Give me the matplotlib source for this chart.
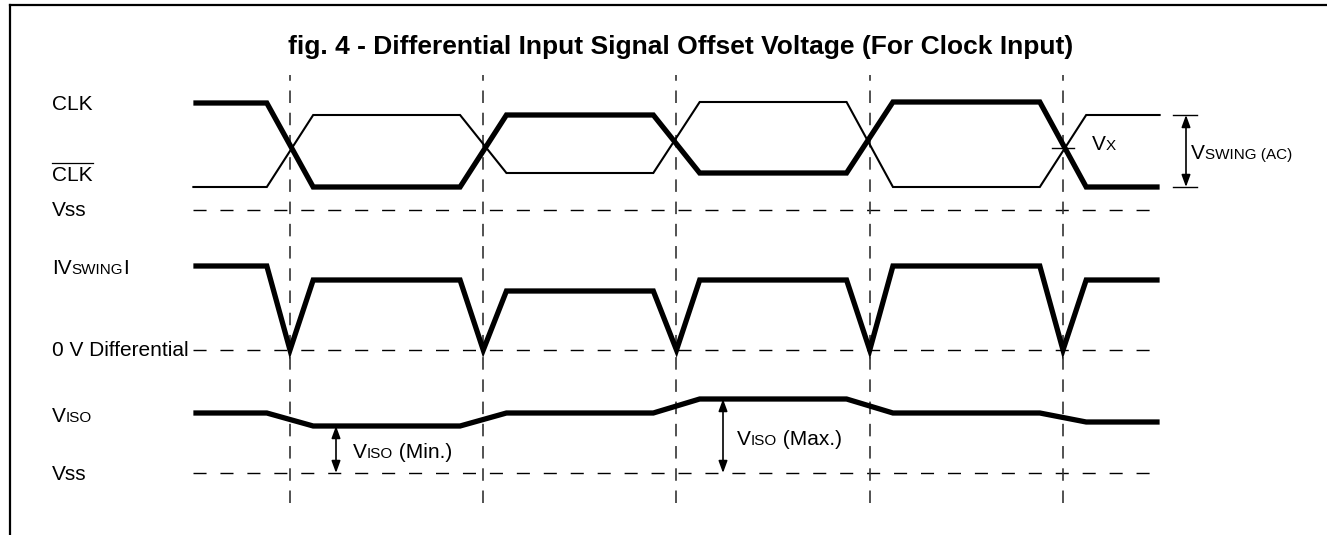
import numpy as np
import matplotlib.pyplot as plt
from matplotlib.lines import Line2D

plt.rcParams['font.family'] = ['Liberation Sans', 'DejaVu Sans']
plt.rcParams['lines.scale_dashes'] = False

W, H = 1327, 535

# clock edges (crossing instants) in half periods
edges = [1, 2, 3, 4, 5]
t_start, t_end = 0.5, 5.5
tr = 0.12  # half of rise / fall time

# level in each interval (before 1st edge ... after last edge), units above the baseline
clk = [107, 23, 95, 37, 108, 23]
clk_bar = [23, 95, 37, 108, 23, 95]
vswing = [84, 70, 59, 70, 84, 70]
viso = [60, 47, 60, 74, 60, 51]

# baselines of the three traces
base_clk = 325   # Vss
base_diff = 185  # 0 V differential
base_iso = 62    # Vss

title = 'fig. 4 - Differential Input Signal Offset Voltage (For Clock Input)'


def step_wave(levels):
    xs, ys = [t_start], [levels[0]]
    for k, e in enumerate(edges):
        xs += [e - tr, e + tr]
        ys += [levels[k], levels[k + 1]]
    xs.append(t_end)
    ys.append(levels[-1])
    return np.array(xs), np.array(ys)


def v_wave(levels):
    xs, ys = [t_start], [levels[0]]
    for k, e in enumerate(edges):
        xs += [e - tr, e, e + tr]
        ys += [levels[k], 0, levels[k + 1]]
    xs.append(t_end)
    ys.append(levels[-1])
    return np.array(xs), np.array(ys)


fig = plt.figure(figsize=(W / 100, H / 100), dpi=100)
ax = fig.add_axes([0, 0, 1, 1])
ax.set_xlim(1 - 290 / 193.25, 1 + (W - 290) / 193.25)
ax.set_ylim(0, H)
ax.axis('off')

thick = dict(color='black', lw=3.8, solid_joinstyle='miter', solid_capstyle='butt')

# dashed reference lines
for b in [base_clk, base_diff, base_iso]:
    ax.plot([t_start, t_end], [b, b], color='black', lw=1.0, dashes=(9.4, 10.0))
for e in edges:
    ax.plot([e, e], [32, 460], color='#333333', lw=1.2, dashes=(9.0, 7.0))

# CLK / CLK bar
x, y = step_wave(clk_bar)
ax.plot(x, base_clk + y, color='black', lw=1.5, solid_joinstyle='miter')
x, y = step_wave(clk)
ax.plot(x, base_clk + y, **thick)

# |Vswing|
x, y = v_wave(vswing)
ax.plot(x, base_diff + y, **thick)

# Viso
x, y = step_wave(viso)
ax.plot(x, base_iso + y, **thick)

# Vx marker at the last crossing
s = (clk[-2] - clk_bar[-2]) / ((clk[-2] - clk[-1]) + (clk_bar[-1] - clk_bar[-2]))
vx = clk[-2] + s * (clk[-1] - clk[-2])
ax.plot([edges[-1] - 0.057, edges[-1] + 0.057], [base_clk + vx] * 2, color='black', lw=1.0)

arrow = dict(arrowstyle='<|-|>,head_length=0.6,head_width=0.22', color='black', lw=1.2,
             mutation_scale=12, shrinkA=0, shrinkB=0)

# Vswing (AC)
ta = 1 + (1186 - 290) / 193.25
for lv in [clk_bar[-1], clk[-1]]:
    ax.plot([ta - 0.067, ta + 0.057], [base_clk + lv] * 2, color='black', lw=1.0)
ax.annotate('', xy=(ta, base_clk + clk_bar[-1]), xytext=(ta, base_clk + clk[-1]), arrowprops=arrow)

# Viso min / max
t_min = 1 + (336 - 290) / 193.25
t_max = 1 + (723 - 290) / 193.25
ax.annotate('', xy=(t_min, base_iso + min(viso)), xytext=(t_min, base_iso), arrowprops=arrow)
ax.annotate('', xy=(t_max, base_iso + max(viso)), xytext=(t_max, base_iso), arrowprops=arrow)

renderer = fig.canvas.get_renderer()
big, small = 15, 11
cap = 0.716 * big * 100 / 72


def rich(x, yc, parts):
    # x, yc in pixels from the top left; yc = middle of the capitals
    yb = 1 - (yc + cap / 2) / H
    for s, size in parts:
        t = fig.text(x / W, yb, s, fontsize=size, ha='left', va='baseline')
        x = t.get_window_extent(renderer).x1
    return t


fig.text(681 / W, 1 - 47 / H, title, fontsize=19, fontweight='bold', ha='center', va='center')

rich(52, 103, [('CLK', big)])
t = rich(52, 174, [('CLK', big)])
bb = t.get_window_extent(renderer)
fig.add_artist(Line2D([bb.x0 / W, bb.x1 / W], [1 - 163 / H] * 2, transform=fig.transFigure,
                      color='black', lw=0.9))
rich(52, 209, [('Vss', big)])
rich(52, 267, [('IV', big), ('SWING', small), ('I', big)])
rich(52, 349, [('0 V Differential', big)])
rich(52, 415, [('V', big), ('ISO', small)])
rich(52, 473, [('Vss', big)])

rich(1092, 143, [('V', big), ('X', small)])
rich(1191, 152, [('V', big), ('SWING (AC)', small)])
rich(353, 451, [('V', big), ('ISO', small), (' (Min.)', big)])
rich(737, 438, [('V', big), ('ISO', small), (' (Max.)', big)])

# frame (top and left edges only)
fig.add_artist(Line2D([10 / W, 1], [1 - 5 / H] * 2, transform=fig.transFigure, color='black', lw=1.6))
fig.add_artist(Line2D([10 / W, 10 / W], [0, 1 - 5 / H], transform=fig.transFigure, color='black', lw=1.6))

fig.savefig('out.png', dpi=100)
